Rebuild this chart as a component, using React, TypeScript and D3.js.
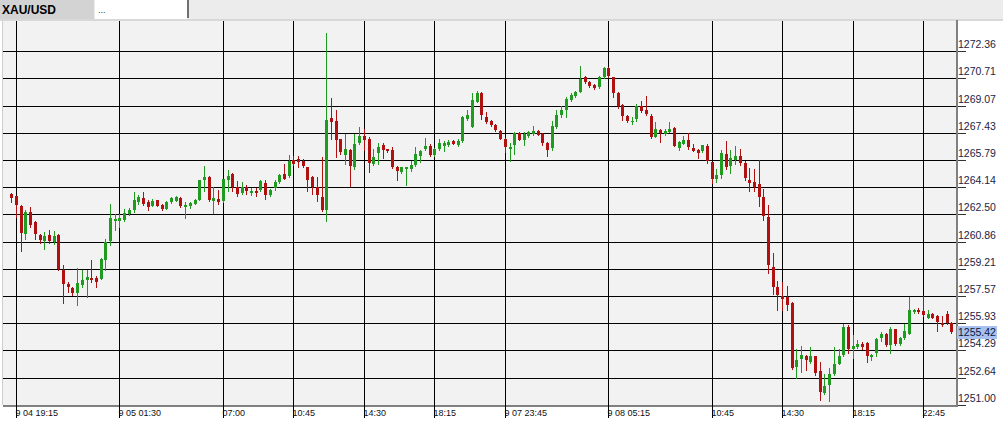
import React from "react";
import * as d3 from "d3";

const opens = [1263.71,1263.60,1262.98,1261.33,1262.62,1262.03,1261.23,1260.87,1261.23,1260.83,1261.23,1259.16,1258.32,1258.05,1257.77,1258.26,1258.56,1258.65,1258.65,1258.62,1259.76,1260.87,1262.09,1262.09,1262.19,1262.54,1262.74,1263.24,1263.51,1263.24,1263.00,1263.34,1263.08,1262.84,1263.24,1263.30,1263.51,1262.94,1262.98,1263.14,1263.38,1264.55,1264.74,1263.30,1263.44,1263.30,1264.59,1264.95,1264.18,1263.78,1264.18,1263.80,1263.94,1263.99,1264.38,1263.68,1264.08,1264.44,1264.95,1264.79,1265.79,1265.85,1265.71,1265.35,1264.74,1264.18,1263.58,1262.74,1268.30,1268.16,1267.02,1266.11,1266.40,1265.35,1266.82,1267.26,1267.06,1265.55,1266.19,1266.66,1266.42,1266.36,1265.39,1265.05,1265.25,1265.25,1265.51,1266.05,1266.42,1266.62,1266.11,1266.42,1266.60,1266.66,1266.92,1266.66,1266.92,1268.27,1267.80,1269.31,1269.81,1268.36,1268.16,1267.92,1267.56,1267.06,1266.46,1266.70,1267.40,1266.96,1267.22,1267.36,1267.56,1267.36,1266.82,1266.52,1267.76,1268.51,1268.83,1269.43,1269.63,1269.91,1270.77,1270.47,1270.32,1270.17,1270.77,1271.34,1270.77,1269.81,1269.11,1268.41,1268.06,1268.27,1269.03,1268.81,1268.41,1267.20,1267.62,1267.36,1267.50,1267.70,1266.49,1266.76,1266.96,1266.52,1266.40,1266.31,1266.62,1265.65,1264.65,1264.85,1266.16,1265.45,1265.81,1266.05,1265.61,1264.59,1264.44,1264.35,1263.58,1262.33,1259.33,1258.09,1257.58,1257.52,1257.18,1253.29,1253.76,1253.94,1253.59,1253.94,1253.05,1251.73,1252.23,1252.85,1253.50,1254.00,1255.71,1254.36,1254.50,1254.70,1254.74,1253.90,1254.14,1255.07,1255.30,1254.60,1255.57,1254.66,1255.07,1255.31,1256.61,1256.76,1256.66,1256.25,1256.48,1256.36,1255.95,1256.52,1255.95];

const highs = [1263.79,1263.64,1263.04,1262.74,1262.94,1262.13,1261.33,1261.43,1261.57,1261.47,1261.33,1259.42,1258.41,1258.11,1259.28,1259.12,1259.12,1259.76,1258.76,1259.84,1261.03,1263.14,1262.54,1262.50,1262.84,1262.90,1263.88,1263.70,1263.88,1263.34,1263.44,1263.38,1263.14,1263.28,1263.58,1263.64,1263.54,1263.24,1263.24,1263.44,1264.59,1265.45,1264.79,1264.14,1263.99,1264.65,1265.15,1264.97,1264.50,1264.44,1264.30,1264.11,1264.11,1264.59,1264.55,1264.05,1264.55,1264.95,1265.55,1266.11,1266.05,1266.05,1265.85,1265.39,1264.79,1264.74,1265.95,1273.43,1269.53,1268.77,1267.06,1267.36,1266.42,1267.36,1267.76,1267.66,1267.16,1266.46,1266.80,1266.80,1266.46,1266.55,1265.45,1265.39,1265.39,1265.75,1266.55,1266.36,1267.12,1266.72,1266.49,1267.06,1266.90,1266.96,1267.00,1267.02,1268.41,1268.81,1269.81,1269.97,1269.91,1268.66,1268.21,1267.97,1267.60,1267.10,1266.82,1267.46,1267.46,1267.46,1267.56,1267.86,1267.62,1267.42,1266.86,1268.16,1268.83,1269.07,1269.57,1269.81,1269.97,1271.48,1270.84,1270.52,1270.38,1270.84,1271.42,1271.38,1270.82,1269.87,1269.17,1268.47,1268.36,1269.17,1269.37,1269.67,1268.53,1268.06,1267.66,1267.66,1268.10,1267.76,1266.90,1267.26,1267.42,1266.76,1266.46,1266.70,1266.72,1265.69,1265.25,1266.36,1266.90,1266.36,1266.60,1266.46,1265.75,1265.29,1265.21,1265.81,1264.05,1263.04,1260.17,1258.48,1258.42,1258.16,1257.22,1254.40,1254.54,1254.00,1254.50,1253.98,1253.59,1252.85,1253.26,1254.50,1254.40,1255.87,1255.81,1255.20,1254.90,1254.80,1254.80,1254.06,1255.07,1255.40,1255.34,1255.71,1255.61,1255.10,1255.91,1257.52,1256.82,1256.88,1257.56,1256.76,1256.55,1256.42,1256.36,1256.67,1256.01];

const lows = [1263.24,1262.33,1260.28,1261.03,1261.77,1261.01,1260.77,1260.39,1260.77,1260.69,1259.12,1257.15,1257.81,1257.63,1257.01,1258.15,1257.51,1258.41,1258.11,1258.58,1259.16,1260.63,1261.53,1261.77,1262.09,1262.44,1262.63,1263.14,1263.04,1262.74,1262.98,1262.98,1262.78,1262.80,1263.20,1263.28,1262.94,1262.30,1262.88,1263.10,1263.34,1263.94,1263.30,1262.57,1263.14,1263.24,1263.94,1263.94,1263.64,1263.74,1263.74,1263.70,1263.64,1263.94,1263.44,1263.64,1263.99,1264.38,1264.61,1264.74,1265.51,1265.35,1265.39,1263.94,1263.74,1263.30,1262.70,1262.09,1267.06,1265.99,1266.16,1265.55,1264.20,1265.25,1266.76,1266.36,1265.05,1265.51,1265.55,1265.92,1266.25,1265.31,1264.59,1264.99,1264.30,1265.11,1265.45,1265.65,1266.36,1266.05,1266.01,1266.36,1266.30,1266.60,1266.72,1266.62,1266.86,1268.21,1267.76,1269.27,1268.27,1268.03,1267.86,1267.56,1267.02,1266.25,1265.75,1266.16,1266.96,1266.70,1267.16,1267.30,1267.30,1266.66,1266.01,1266.36,1267.70,1268.36,1268.36,1269.37,1269.61,1269.87,1270.44,1270.17,1270.08,1270.14,1270.74,1270.77,1269.57,1268.93,1268.22,1268.10,1267.97,1268.16,1268.66,1268.51,1267.10,1267.16,1266.86,1267.32,1267.46,1266.60,1266.40,1266.72,1266.46,1266.30,1265.92,1266.25,1265.61,1264.41,1264.44,1264.71,1265.25,1264.99,1265.55,1265.49,1264.59,1263.90,1263.90,1263.00,1262.19,1258.96,1257.72,1256.72,1256.76,1256.76,1253.20,1252.65,1252.99,1253.09,1253.53,1252.79,1251.33,1251.69,1251.24,1252.81,1253.46,1253.94,1254.14,1253.86,1254.46,1254.40,1253.59,1253.70,1253.94,1254.86,1254.56,1254.14,1254.64,1254.60,1255.01,1255.27,1256.58,1256.58,1256.37,1256.22,1256.22,1255.47,1255.75,1255.87,1255.37];

const closes = [1263.51,1263.08,1261.37,1262.63,1261.89,1261.29,1260.93,1261.17,1260.87,1261.17,1259.22,1258.32,1258.11,1257.77,1258.38,1258.52,1258.71,1258.52,1258.41,1259.82,1260.83,1262.30,1262.24,1262.26,1262.60,1262.78,1263.34,1263.54,1263.14,1262.94,1263.28,1263.00,1262.84,1263.24,1263.48,1263.54,1263.00,1263.04,1263.18,1263.34,1264.55,1264.74,1263.34,1263.48,1263.24,1264.61,1264.79,1264.18,1263.74,1264.18,1263.90,1263.90,1263.80,1264.50,1263.68,1264.00,1264.44,1264.90,1264.65,1265.71,1265.55,1265.65,1265.45,1264.59,1264.14,1263.70,1262.74,1268.21,1268.06,1266.96,1266.25,1266.42,1265.45,1266.72,1267.22,1266.96,1265.59,1265.99,1266.55,1266.36,1266.30,1265.35,1265.11,1265.35,1265.35,1265.51,1266.16,1266.30,1266.62,1266.11,1266.42,1266.82,1266.80,1266.86,1266.76,1266.92,1268.36,1268.47,1269.43,1269.81,1268.51,1268.06,1267.90,1267.62,1267.06,1266.55,1266.55,1267.40,1267.00,1267.36,1267.46,1267.56,1267.32,1266.82,1266.40,1267.86,1268.51,1268.83,1269.47,1269.71,1269.91,1270.68,1270.47,1270.23,1270.11,1270.77,1271.34,1270.84,1269.83,1269.07,1268.41,1268.16,1268.16,1269.07,1268.72,1268.53,1267.20,1267.66,1267.40,1267.56,1267.66,1266.62,1266.86,1266.96,1266.55,1266.32,1266.19,1266.66,1265.75,1264.65,1264.85,1266.19,1265.39,1265.91,1266.05,1265.61,1264.71,1264.38,1264.18,1263.58,1262.39,1259.42,1258.12,1257.66,1257.38,1257.02,1253.26,1253.70,1254.00,1253.70,1253.94,1252.93,1251.79,1252.15,1252.85,1253.46,1253.94,1255.71,1254.40,1254.54,1254.66,1254.50,1253.94,1254.00,1255.01,1255.30,1254.60,1255.61,1254.66,1255.07,1255.47,1256.76,1256.76,1256.61,1256.42,1256.48,1256.25,1256.01,1255.81,1255.92,1255.42];

const priceTicks = [1272.36,1270.71,1269.07,1267.43,1265.79,1264.14,1262.50,1260.86,1259.21,1257.57,1255.93,1254.29,1252.64,1251.00];
const timeTickBars = [1,23,45,60,75,90,105,127,149,164,179,194];
const timeTickLabels = ["9 04 19:15","9 05 01:30","07:00","10:45","14:30","18:15","9 07 23:45","9 08 05:15","10:45","14:30","18:15","22:45"];
const symbol = "XAU/USD";
const lastPrice = 1255.42;

const W = 1003, H = 428;
const PL = 3, PR = 956, PT = 21, PB = 405;
const UP = "#1f9c1f", DOWN = "#b01010";
const FONT = "'Liberation Sans', Arial, sans-serif";

export default function App() {
  const n = closes.length;
  const x = d3.scaleLinear().domain([0, n - 1]).range([11.3, 951.3]);
  const y = d3.scaleLinear().domain([1251.0, 1272.36]).range([PB, 51]);
  const ry = (v: number) => Math.round(y(v));

  return (
    <svg width={W} height={H} style={{ position: "absolute", left: 0, top: 0, display: "block" }} shapeRendering="crispEdges">
      <rect x={0} y={0} width={W} height={H} fill="#ffffff" />
      {/* tab bar */}
      <rect x={0} y={0} width={W} height={19} fill="#ececec" />
      <rect x={0} y={0} width={94} height={19} fill="#d3d3d3" />
      <rect x={95} y={0} width={92} height={19} fill="#ffffff" />
      <rect x={187} y={0} width={2} height={18} fill="#707070" />
      <rect x={0} y={19} width={W} height={2} fill="#d8d8d8" />
      <text x={2} y={14} fontFamily={FONT} fontWeight="bold" fontSize={12} fill="#000">{symbol}</text>
      <text x={98} y={13} fontFamily={FONT} fontSize={9} fill="#333">...</text>

      {/* plot area */}
      <rect x={PL} y={PT} width={PR - PL} height={PB - PT} fill="#f2f2f2" />
      <rect x={2} y={PT} width={1} height={PB - PT} fill="#cfcfcf" />

      {priceTicks.map((v, k) => (
        <g key={"h" + k}>
          <line x1={PL} x2={PR} y1={ry(v) + 0.5} y2={ry(v) + 0.5} stroke="#000" strokeWidth={1} />
          <line x1={PR} x2={966} y1={ry(v) + 0.5} y2={ry(v) + 0.5} stroke="#333" strokeWidth={1} />
        </g>
      ))}
      {timeTickBars.map((b, k) => {
        const px = Math.round(x(b)) + 0.5;
        return <line key={"v" + k} x1={px} x2={px} y1={PT} y2={418} stroke="#000" strokeWidth={1} />;
      })}

      {/* candles */}
      {closes.map((c, i) => {
        const o = opens[i];
        const up = c >= o;
        const col = up ? UP : DOWN;
        const px = Math.round(x(i));
        const top = ry(Math.max(o, c));
        const bot = ry(Math.min(o, c));
        return (
          <g key={"c" + i}>
            <line x1={px + 0.5} x2={px + 0.5} y1={ry(highs[i])} y2={ry(lows[i]) + 1} stroke={col} strokeWidth={1} />
            <rect x={px - 1} y={top} width={3} height={Math.max(1, bot - top)} fill={col} />
          </g>
        );
      })}

      {/* axis lines */}
      <rect x={PR} y={PT - 1} width={2} height={PB - PT + 3} fill="#808080" />
      <rect x={PL} y={PB} width={PR - PL + 2} height={2} fill="#808080" />
      {timeTickBars.map((b, k) => {
        const px = Math.round(x(b)) + 0.5;
        return <line key={"t" + k} x1={px} x2={px} y1={PB} y2={418} stroke="#000" strokeWidth={1} />;
      })}

      {/* labels */}
      {priceTicks.map((v, k) => (
        <text key={"yl" + k} x={958} y={ry(v) - 3} fontFamily={FONT} fontSize={10.5} fill="#1a2444">{v.toFixed(2)}</text>
      ))}
      {timeTickBars.map((b, k) => (
        <text key={"xl" + k} x={Math.round(x(b)) - 0.5} y={416} fontFamily={FONT} fontSize={9} fill="#111">{timeTickLabels[k]}</text>
      ))}

      {/* last price label */}
      <rect x={957} y={ry(lastPrice) - 6} width={40} height={13} fill="#a9c1ef" />
      <text x={958} y={ry(lastPrice) + 4} fontFamily={FONT} fontSize={10.5} fill="#0a1a40">{lastPrice.toFixed(2)}</text>
    </svg>
  );
}
